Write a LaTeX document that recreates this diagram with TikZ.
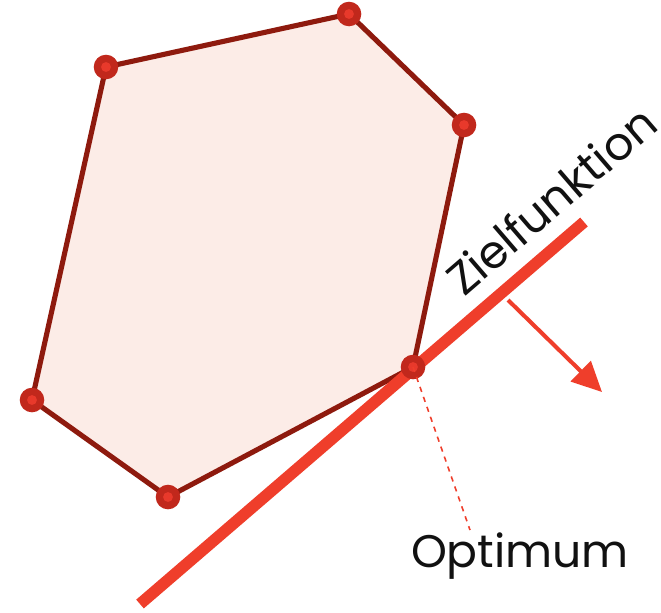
\documentclass[tikz,border=0pt]{standalone}
\usepackage{fontspec}
\setmainfont{Poppins}
\usetikzlibrary{arrows.meta}
\definecolor{Canvas}{HTML}{FFFFFF}
\definecolor{AreaFill}{HTML}{FCECE7}
\definecolor{EdgeRed}{HTML}{8E1A0E}
\definecolor{DotRed}{HTML}{C1281C}
\definecolor{DotCore}{HTML}{E8392B}
\definecolor{GoalRed}{HTML}{EF3E2B}
\definecolor{TextInk}{HTML}{111111}
\tikzset{
  vertexdot/.style={circle,fill=DotRed,inner sep=0pt,minimum size=14pt},
  goalline/.style={GoalRed,line width=6.6pt},
}
\begin{document}
\begin{tikzpicture}[x=0.02cm,y=-0.02cm,every node/.style={text=TextInk}]
\useasboundingbox (0,0) rectangle (661,612);
\fill[Canvas] (0,0) rectangle (661,612);
% corners of the feasible region
\coordinate (a) at (106,67);
\coordinate (b) at (349,14);
\coordinate (c) at (464,125);
\coordinate (d) at (413,367);
\coordinate (e) at (168,497);
\coordinate (f) at (32,400);
\filldraw[fill=AreaFill,draw=EdgeRed,line width=2.9pt,line join=round]
  (a)--(b)--(c)--(d)--(e)--(f)--cycle;
% objective line and direction
\coordinate (g1) at (140,604);
\coordinate (g2) at (584,222);
\coordinate (h1) at (508,300);
\coordinate (h2) at (602,392);
\draw[goalline] (g1)--(g2);
\draw[GoalRed,line width=2.3pt,-{Triangle[length=17pt,width=16pt]}] (h1)--(h2);
\foreach \v in {a,b,c,d,e,f}{
  \node[vertexdot] at (\v) {};
  \fill[DotCore] (\v) circle (2.8pt);
}
\node[font=\fontsize{26}{30}\selectfont,rotate=40.7] (zf) at (551,200) {Zielfunktion};
\node[font=\fontsize{26}{30}\selectfont] (opt) at (520,556) {Optimum};
\draw[GoalRed,line width=0.9pt,dashed] (d)--(470,530);
\end{tikzpicture}
\end{document}
